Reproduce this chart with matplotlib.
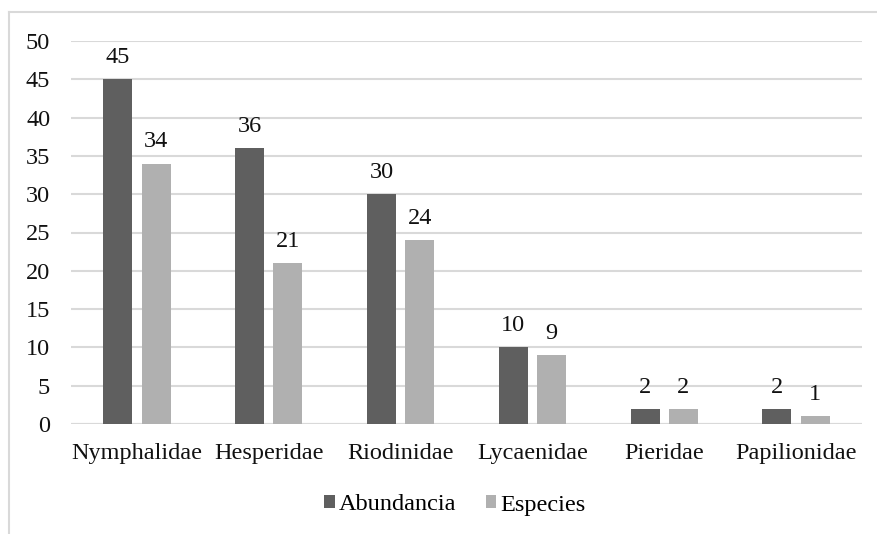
import matplotlib
matplotlib.use('Agg')
import matplotlib.pyplot as plt
from matplotlib.lines import Line2D
import numpy as np

families=['Nymphalidae','Hesperidae','Riodinidae','Lycaenidae','Pieridae','Papilionidae']
abundancia=[45,36,30,10,2,2]
especies=[34,21,24,9,2,1]

plt.rcParams['font.family']=['Liberation Serif','DejaVu Serif']
FS=17.5

fig=plt.figure(figsize=(8.78,5.34),dpi=100)
ax=fig.add_axes([71/878,1-424/534,(862-71)/878,(424-41)/534])

x=np.arange(len(families))
w=0.22
off=0.145
b1=ax.bar(x-off,abundancia,w,color='#5f5f5f',label='Abundancia',zorder=3)
b2=ax.bar(x+off,especies,w,color='#b0b0b0',label='Especies',zorder=3)

for bars in (b1,b2):
    for r in bars:
        ax.annotate(f'{int(r.get_height())}',(r.get_x()+r.get_width()/2,r.get_height()),
                    xytext=(0,8),textcoords='offset points',ha='center',va='bottom',fontsize=FS,color='#111111')

ax.set_xlim(-0.5,len(families)-0.5)
ax.set_ylim(0,50)
ax.set_yticks(range(0,51,5))
ax.set_xticks(x)
ax.set_xticklabels(families)
ax.yaxis.grid(True,color='#d9d9d9',linewidth=1.5,zorder=0)
ax.set_axisbelow(True)
for s in ax.spines.values():
    s.set_visible(False)
ax.axhline(0,color='#d9d9d9',linewidth=1.5,zorder=1)
ax.tick_params(axis='both',length=0,labelsize=FS,colors='#111111')
ax.tick_params(axis='x',pad=14)
ax.tick_params(axis='y',pad=15)

leg=fig.legend(handles=[b1,b2],loc='center',bbox_to_anchor=(0.518,1-505/534),ncol=2,frameon=False,
               fontsize=FS,handlelength=0.45,handleheight=0.45,handletextpad=0.15,columnspacing=1.2)

# outer chart frame
fig.add_artist(Line2D([9/878,1],[1-12/534,1-12/534],transform=fig.transFigure,color='#d9d9d9',linewidth=1.5))
fig.add_artist(Line2D([9/878,9/878],[0,1-12/534],transform=fig.transFigure,color='#d9d9d9',linewidth=1.5))

fig.savefig('out.png',dpi=100)
